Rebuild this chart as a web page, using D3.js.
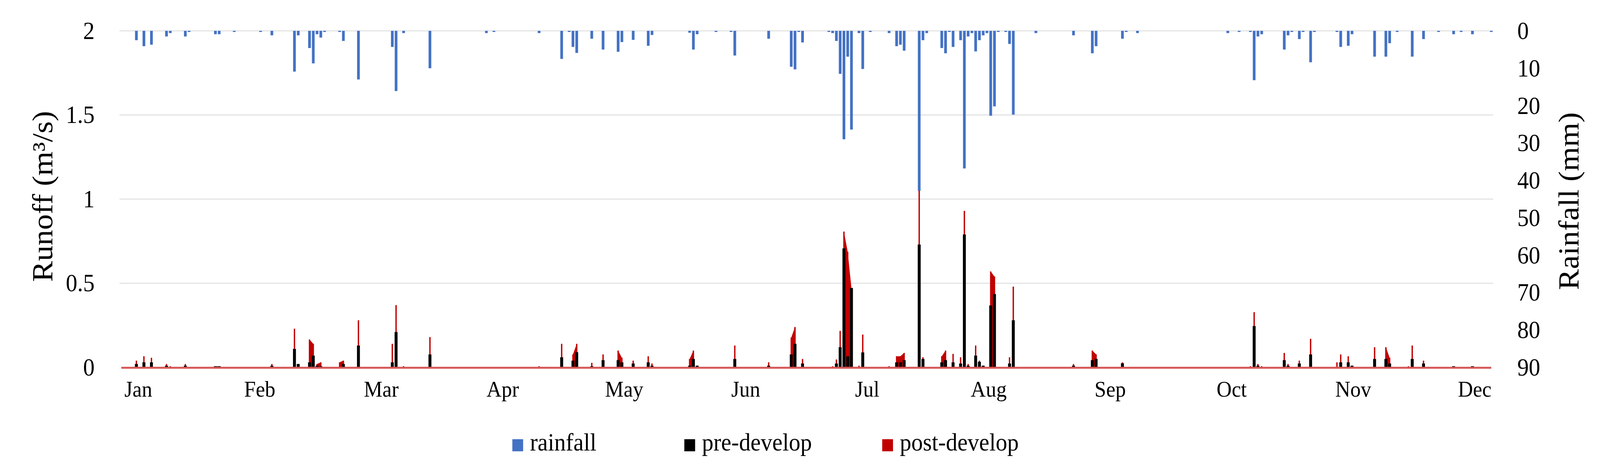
<!DOCTYPE html>
<html>
<head>
<meta charset="utf-8">
<script src="https://cdn.jsdelivr.net/npm/d3@7"></script>
<style>
  html, body { margin: 0; padding: 0; background: #fff; width: 100%; height: 100%; overflow: hidden; }
  #chart { width: 100vw; height: 100vh; }
  svg { display: block; }
  text { font-family: "Liberation Serif", "Times New Roman", serif; fill: #000; }
</style>
</head>
<body>
<div id="chart"></div>
<script>
// day of year (0 = first day) and daily rainfall in mm
var rainDay = [4,6,8,12,13,17,18,25,26,30,37,40,46,47,50,51,52,53,54,58,59,
  63,72,73,75,82,97,99,111,117,119,120,121,
  125,128,132,133,136,140,141,151,152,153,158,162,163,172,178,179,180,181,
  188,189,190,191,192,193,194,196,197,199,204,206,207,208,212,213,214,218,219,220,221,223,224,225,226,227,228,229,230,231,232,233,235,236,237,243,
  253,258,259,266,267,270,294,297,300,301,302,303,
  309,310,311,313,314,316,317,323,324,326,327,333,336,337,339,343,346,350,354,356,359,364];
var rainMm = [2.5,4.1,3.7,1.5,0.6,1.5,0.3,0.9,0.9,0.3,0.3,1.2,10.9,1.2,4.6,8.7,0.9,1.8,0.3,0.3,2.7,
  13.0,4.3,16.1,0.6,10.0,0.6,0.3,0.6,7.5,0.3,4.3,5.9,
  2.1,5.0,5.6,3.0,2.4,4.0,1.1,0.5,5.0,0.9,0.3,0.3,6.6,2.1,9.6,10.3,0.3,3.1,
  0.3,0.6,2.7,11.5,29.0,6.9,26.4,0.6,10.2,0.3,0.6,4.1,3.7,5.3,42.8,2.5,0.6,4.6,6.0,0.3,4.3,2.5,36.8,1.5,0.6,5.5,2.5,1.2,0.6,22.7,20.2,0.3,0.3,3.5,22.4,0.6,
  1.2,6.0,4.1,2.1,0.3,0.6,0.6,0.3,0.3,13.2,1.5,0.9,
  5.0,1.2,0.3,2.2,0.3,8.4,0.3,0.3,4.3,4.0,0.9,6.9,6.9,3.3,0.3,6.9,2.2,0.3,0.9,0.3,0.9,0.3];

// runoff in m3/s, same day numbering
var runoffDay = [4,6,8,12,13,17,25,26,40,46,47,50,51,52,53,58,59,
  63,72,73,75,82,111,117,120,121,
  125,128,132,133,136,140,141,151,152,153,163,172,178,179,181,
  189,190,191,192,193,194,196,197,204,206,207,208,212,213,218,219,221,223,224,225,227,228,229,231,232,236,237,
  253,258,259,266,300,301,302,303,
  309,310,313,316,323,324,326,327,333,336,337,342,343,346,354,359];
var preDevelop = [0.02,0.03,0.03,0.01,0,0.01,0.007,0.007,0.01,0.11,0.02,0.03,0.07,0.01,0.007,0,0.02,
  0.13,0.03,0.21,0,0.077,0,0.06,0.04,0.09,
  0.007,0.043,0.043,0.03,0.023,0.03,0.01,0.01,0.05,0.01,0.05,0.01,0.077,0.14,0.023,
  0,0.023,0.12,0.707,0.066,0.472,0,0.089,0,0.03,0.03,0.043,0.73,0.05,0.03,0.043,0.03,0.023,0.79,0.01,0.07,0.033,0.01,0.368,0.436,0.023,0.28,
  0.01,0.043,0.05,0.024,0,0.246,0.01,0,
  0.043,0.01,0.023,0.077,0,0.03,0.03,0.01,0.05,0.05,0.023,0,0.05,0.023,0.007,0.007];
var postDevelop = [0.04,0.066,0.057,0.02,0.007,0.02,0.007,0.007,0.02,0.23,0.02,0.166,0.14,0.02,0.03,0.03,0.04,
  0.28,0.14,0.37,0.007,0.18,0.007,0.14,0.077,0.14,
  0.027,0.077,0.1,0.057,0.04,0.066,0.023,0.05,0.1,0.01,0.13,0.03,0.177,0.24,0.05,
  0.007,0.047,0.217,0.807,0.687,0.47,0.01,0.195,0.007,0.066,0.066,0.086,1.05,0.06,0.066,0.1,0.08,0.06,0.93,0.02,0.13,0.04,0.01,0.57,0.54,0.06,0.48,
  0.02,0.1,0.077,0.03,0.007,0.328,0.02,0.007,
  0.086,0.02,0.04,0.17,0.03,0.077,0.066,0.01,0.12,0.12,0.057,0.007,0.13,0.04,0.007,0.007];

var monthLabels = ['Jan','Feb','Mar','Apr','May','Jun','Jul','Aug','Sep','Oct','Nov','Dec'];
var runoffTicks = [0, 0.5, 1, 1.5, 2];
var rainTicks = [0, 10, 20, 30, 40, 50, 60, 70, 80, 90];
var legendNames = ['rainfall', 'pre-develop', 'post-develop'];

var colors = {rain: '#4472C4', pre: '#000000', post: '#C00000'};

var width = 4447, height = 1209,
    margin = {top: 79, right: 297, bottom: 268, left: 332},
    plotW = width - margin.left - margin.right,
    plotH = height - margin.top - margin.bottom;

var rain = rainDay.map(function (d, i) { return {day: d, mm: rainMm[i]}; });
var runoff = runoffDay.map(function (d, i) {
  return {day: d, pre: preDevelop[i], post: postDevelop[i]};
});

// consecutive wet days of similar size get joined, like the original area fill
var postPairs = [];
runoff.forEach(function (d, i) {
  var n = runoff[i + 1];
  if (n && n.day === d.day + 1 && Math.min(d.post, n.post) >= 0.45 * Math.max(d.post, n.post)) {
    postPairs.push([d, n]);
  }
});

var svg = d3.select('#chart')
  .append('svg')
  .attr('viewBox', '0 0 ' + width + ' ' + height)
  .attr('preserveAspectRatio', 'none')
  .attr('width', '100%')
  .attr('height', '100%');

svg.append('rect').attr('width', width).attr('height', height).attr('fill', '#fff');

var g = svg.append('g')
  .attr('transform', 'translate(' + margin.left + ',' + margin.top + ')');

var x = d3.scaleLinear().domain([0, 365]).range([0, plotW]),
    dayW = x(1) - x(0),
    xMonth = d3.scalePoint().domain(monthLabels).range([0, plotW]).padding(0.1535),
    yRun = d3.scaleLinear().domain([0, 2]).range([plotH, 0]),
    yRain = d3.scaleLinear().domain([0, 90]).range([0, plotH]);

// gridlines
g.append('g')
  .selectAll('line')
  .data(runoffTicks.filter(function (t) { return t > 0; })).enter()
  .append('line')
  .attr('x1', 0)
  .attr('x2', plotW)
  .attr('y1', function (d) { return yRun(d); })
  .attr('y2', function (d) { return yRun(d); })
  .attr('stroke', '#e4e4e4')
  .attr('stroke-width', 3);

// rainfall hangs from the top
var rainW = dayW * 0.72;
g.append('g')
  .selectAll('rect')
  .data(rain).enter()
  .append('rect')
  .attr('x', function (d) { return x(d.day + 0.5) - rainW / 2; })
  .attr('y', 0)
  .attr('width', rainW)
  .attr('height', function (d) { return yRain(d.mm); })
  .attr('fill', colors.rain);

// post-develop behind, pre-develop on top
var postArea = d3.area()
  .x(function (d) { return x(d.day + 0.5); })
  .y0(plotH)
  .y1(function (d) { return yRun(d.post); });

g.append('g')
  .selectAll('path')
  .data(postPairs).enter()
  .append('path')
  .attr('d', postArea)
  .attr('fill', colors.post);

var postW = dayW * 0.36, preW = dayW * 0.78;
g.append('g')
  .selectAll('rect')
  .data(runoff).enter()
  .append('rect')
  .attr('x', function (d) { return x(d.day + 0.5) - postW / 2; })
  .attr('y', function (d) { return yRun(d.post); })
  .attr('width', postW)
  .attr('height', function (d) { return plotH - yRun(d.post); })
  .attr('fill', colors.post);

g.append('g')
  .selectAll('rect')
  .data(runoff.filter(function (d) { return d.pre > 0; })).enter()
  .append('rect')
  .attr('x', function (d) { return x(d.day + 0.5) - preW / 2; })
  .attr('y', function (d) { return yRun(d.pre); })
  .attr('width', preW)
  .attr('height', function (d) { return plotH - yRun(d.pre); })
  .attr('fill', colors.pre);

// post-develop series along zero
g.append('line')
  .attr('x1', x(0.5))
  .attr('x2', x(364.5))
  .attr('y1', yRun(0) + 1)
  .attr('y2', yRun(0) + 1)
  .attr('stroke', '#d65555')
  .attr('stroke-width', 5);

// axes
var leftAxis = g.append('g')
  .call(d3.axisLeft(yRun).tickValues(runoffTicks).tickSize(0).tickPadding(69)
    .tickFormat(function (d) { return d; }));

var rightAxis = g.append('g')
  .attr('transform', 'translate(' + plotW + ',0)')
  .call(d3.axisRight(yRain).tickValues(rainTicks).tickSize(0).tickPadding(67));

var bottomAxis = g.append('g')
  .attr('transform', 'translate(0,' + plotH + ')')
  .call(d3.axisBottom(xMonth).tickSize(0).tickPadding(34));

[leftAxis, rightAxis, bottomAxis].forEach(function (a) {
  a.select('.domain').remove();
  a.selectAll('text')
    .attr('font-family', '"Liberation Serif", serif')
    .attr('fill', '#000');
});
leftAxis.selectAll('text').attr('font-size', 64);
rightAxis.selectAll('text').attr('font-size', 64);
bottomAxis.selectAll('text').attr('font-size', 58);

// axis titles
svg.append('text')
  .attr('transform', 'translate(145,' + (margin.top + 424) + ') rotate(-90)')
  .attr('text-anchor', 'middle')
  .attr('font-size', 80)
  .text('Runoff (m³/s)');

svg.append('text')
  .attr('transform', 'translate(4387,' + (margin.top + 436) + ') rotate(-90)')
  .attr('text-anchor', 'middle')
  .attr('font-size', 80)
  .text('Rainfall (mm)');

// legend
var legendX = [1424, 1902, 2452],
    legendColors = [colors.rain, colors.pre, colors.post];

var item = svg.append('g')
  .selectAll('g')
  .data(legendNames).enter()
  .append('g')
  .attr('transform', function (d, i) { return 'translate(' + legendX[i] + ',1125)'; });

item.append('rect')
  .attr('width', 30)
  .attr('height', 31)
  .attr('fill', function (d, i) { return legendColors[i]; });

item.append('text')
  .attr('x', 49)
  .attr('y', 29)
  .attr('font-size', 64)
  .text(function (d) { return d; });
</script>
</body>
</html>
